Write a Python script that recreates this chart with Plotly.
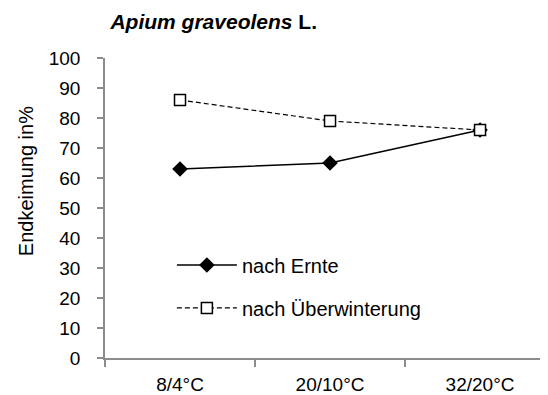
import plotly.graph_objects as go

categories = ["8/4°C", "20/10°C", "32/20°C"]
nach_ernte = [63, 65, 76]
nach_ueberwinterung = [86, 79, 76]
y_ticks = [0, 10, 20, 30, 40, 50, 60, 70, 80, 90, 100]

FONT = "Liberation Sans, Arial, sans-serif"
GRAY = "#8c8c8c"

fig = go.Figure()
fig.add_trace(go.Scatter(
    x=categories, y=nach_ernte, name="nach Ernte", mode="lines+markers",
    line=dict(color="black", width=1.5),
    marker=dict(symbol="diamond", size=12, color="black"),
    legend="legend", showlegend=True,
))
fig.add_trace(go.Scatter(
    x=categories, y=nach_ueberwinterung, name="nach Überwinterung", mode="lines+markers",
    line=dict(color="black", width=1.2, dash="5px,3px"),
    marker=dict(symbol="square", size=11, color="white", line=dict(color="black", width=1.5)),
    legend="legend2", showlegend=True,
))

fig.add_annotation(
    text="Endkeimung in%", textangle=-90, xref="paper", yref="paper",
    x=-0.178, y=0.59, xanchor="center", yanchor="middle", showarrow=False,
    font=dict(size=20, family=FONT, color="black"),
)

fig.update_layout(
    width=540, height=387,
    margin=dict(l=97, r=0, t=50, b=37),
    paper_bgcolor="white", plot_bgcolor="white",
    font=dict(family=FONT, size=19, color="black"),
    showlegend=True,
    title=dict(text="<b><i>Apium graveolens</i> L.</b>", x=0.381, xref="container", xanchor="center",
               y=0.964, yref="container", yanchor="middle", font=dict(size=21, family=FONT)),
    xaxis=dict(type="category", range=[-0.5, 2.453], showline=True, linecolor=GRAY, linewidth=1.5,
               ticks="outside", tickson="boundaries", ticklen=7, tickcolor=GRAY, tickwidth=1.5,
               showgrid=False, zeroline=False, ticklabelstandoff=8, tickfont=dict(size=19)),
    yaxis=dict(range=[0, 100], tickvals=y_ticks, showline=True, linecolor=GRAY, linewidth=1.5,
               ticks="outside", ticklen=6, tickcolor=GRAY, tickwidth=1.5, showgrid=False, zeroline=False,
               ticklabelstandoff=13, tickfont=dict(size=19)),
    legend=dict(x=0.151, y=0.31, xanchor="left", yanchor="middle", bgcolor="rgba(0,0,0,0)",
                itemwidth=60, font=dict(size=20)),
    legend2=dict(x=0.151, y=0.167, xanchor="left", yanchor="middle", bgcolor="rgba(0,0,0,0)",
                 itemwidth=60, font=dict(size=20)),
)

fig.write_html("out.html")
